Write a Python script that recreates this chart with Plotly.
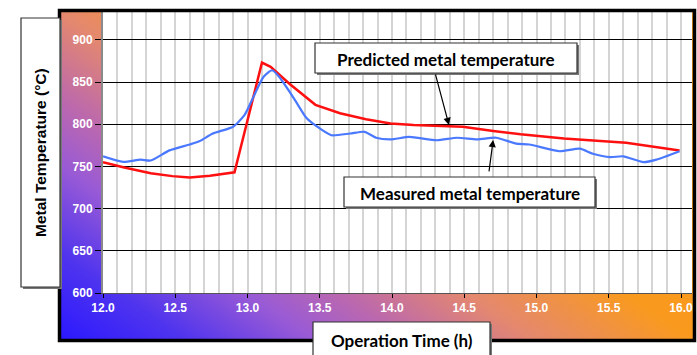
import base64
import plotly.graph_objects as go

# ---------------- data ----------------
pred_time = [12.00, 12.14, 12.33, 12.48, 12.60, 12.74, 12.91, 13.10, 13.16, 13.29,
             13.47, 13.64, 13.82, 13.99, 14.15, 14.49, 14.70, 14.89, 15.19, 15.62, 15.99]
pred_temp = [755, 749, 742, 738.5, 737, 739, 743, 873, 868, 848,
             823, 813, 806, 801, 799, 797, 792, 788, 783, 778, 769]

meas_time = [12.00, 12.14, 12.26, 12.33, 12.46, 12.60, 12.67, 12.76, 12.90, 12.98,
             13.04, 13.11, 13.17, 13.22, 13.32, 13.41, 13.50, 13.58, 13.71, 13.81,
             13.89, 13.99, 14.12, 14.31, 14.45, 14.59, 14.72, 14.86, 14.95, 15.16,
             15.30, 15.39, 15.51, 15.60, 15.74, 15.83, 15.99]
meas_temp = [762, 755.5, 758, 757, 769, 776, 780, 789, 797, 811,
             832, 856, 864, 856, 831, 807, 795, 787, 789, 791,
             784, 782, 785, 781, 784, 782, 784, 777, 776, 768,
             771, 765, 761, 762, 755, 758, 768]

x_ticks = [12.0, 12.5, 13.0, 13.5, 14.0, 14.5, 15.0, 15.5, 16.0]
x_ticklabels = ["12.0", "12.5", "13.0", "13.5", "14.0", "14.5", "15.0", "15.5", "16.0"]
y_ticks = [600, 650, 700, 750, 800, 850, 900]

# ---------------- geometry helpers ----------------
W, H = 697, 355
L, R, T, B = 103, 692, 12, 293


def px(x):
    return (x - L) / (R - L)


def py(y):
    return (B - y) / (B - T)


fig = go.Figure()
fig.add_trace(go.Scatter(x=pred_time, y=pred_temp, mode="lines",
                         line=dict(color="#ff1010", width=2.5), showlegend=False))
fig.add_trace(go.Scatter(x=meas_time, y=meas_temp, mode="lines",
                         line=dict(color="#4a78ff", width=2.2, shape="spline", smoothing=0.6),
                         showlegend=False))

# gradient background image (svg)
gw, gh = 635, 330
svg = f'''<svg xmlns="http://www.w3.org/2000/svg" width="{gw}" height="{gh}" viewBox="0 0 {gw} {gh}" preserveAspectRatio="none">
<defs><linearGradient id="g" gradientUnits="userSpaceOnUse" x1="0" y1="{gh}" x2="204" y2="34">
<stop offset="0" stop-color="#2a18ff"/>
<stop offset="0.2" stop-color="#4f34ee"/>
<stop offset="0.4" stop-color="#985ad6"/>
<stop offset="0.55" stop-color="#bb68ae"/>
<stop offset="0.75" stop-color="#e4886f"/>
<stop offset="1" stop-color="#f99a1f"/>
</linearGradient></defs><rect width="{gw}" height="{gh}" fill="url(#g)"/></svg>'''
src = "data:image/svg+xml;base64," + base64.b64encode(svg.encode()).decode()
fig.add_layout_image(source=src, xref="paper", yref="paper", x=px(59), y=py(10),
                     sizex=gw / (R - L), sizey=gh / (B - T), sizing="stretch",
                     xanchor="left", yanchor="top", layer="below")

shapes = []
# white plot area
shapes.append(dict(type="rect", xref="paper", yref="paper", x0=0, x1=1, y0=0, y1=1,
                   fillcolor="white", line=dict(width=0), layer="below"))
# frame
shapes.append(dict(type="rect", xref="paper", yref="paper", x0=px(59.5), x1=px(694.5),
                   y0=py(340.5), y1=py(10.5), line=dict(color="black", width=3.5),
                   fillcolor="rgba(0,0,0,0)", layer="above"))


def box(x0, y0, x1, y1):
    shapes.append(dict(type="rect", xref="paper", yref="paper", x0=px(x0 + 2), x1=px(x1 + 2),
                       y0=py(y1 + 2), y1=py(y0 + 2), fillcolor="#777777",
                       line=dict(width=0), layer="above"))
    shapes.append(dict(type="rect", xref="paper", yref="paper", x0=px(x0), x1=px(x1),
                       y0=py(y1), y1=py(y0), fillcolor="white",
                       line=dict(color="#333333", width=1.2), layer="above"))


box(21, 18, 60, 287)
box(313, 322, 490, 362)
box(315, 43, 577, 73)
box(344, 177, 595, 207)

annotations = []
tf = dict(family="Lato, Liberation Sans, Arial", size=17, color="black", weight="bold")


def label(x, y, text, font, angle=0):
    annotations.append(dict(xref="paper", yref="paper", x=px(x), y=py(y), text=text,
                            xanchor="center", yanchor="middle", showarrow=False,
                            textangle=angle, font=font))


label(446, 59, "Predicted metal temperature", tf)
label(469.5, 193, "Measured metal temperature", tf)
label(401.5, 341, "Operation Time (h)", dict(tf, size=17))
label(40.5, 152.5, "Metal Temperature (°C)",
      dict(family="Liberation Sans, Arial", size=15.5, color="black", weight="bold"), angle=-90)

# arrows
annotations.append(dict(x=14.394, y=799.2, ax=14.298, ay=860.9, xref="x", yref="y", axref="x", ayref="y",
                        text="", showarrow=True, arrowhead=2, arrowsize=1.2, arrowwidth=1.2, arrowcolor="black"))
annotations.append(dict(x=14.70, y=781.4, ax=14.67, ay=742.3, xref="x", yref="y", axref="x", ayref="y",
                        text="", showarrow=True, arrowhead=2, arrowsize=1.2, arrowwidth=1.2, arrowcolor="black"))

tickfont = dict(family="Liberation Sans, Arial", size=12, color="white", weight="bold")
fig.update_layout(
    width=W, height=H,
    margin=dict(l=L, r=W - R, t=T, b=H - B, pad=0),
    paper_bgcolor="white", plot_bgcolor="rgba(0,0,0,0)",
    shapes=shapes, annotations=annotations,
    xaxis=dict(range=[12, 16.076], tickvals=x_ticks, ticktext=x_ticklabels,
               showgrid=True, gridcolor="#d4d4d4", gridwidth=1.5,
               minor=dict(dtick=0.1, tick0=12, showgrid=True, gridcolor="#d4d4d4", gridwidth=1.5),
               ticks="outside", ticklen=4, tickcolor="black", tickwidth=1,
               showline=True, linecolor="#555555", linewidth=1,
               tickfont=tickfont, zeroline=False),
    yaxis=dict(range=[600, 933], tickvals=y_ticks,
               showgrid=True, gridcolor="black", gridwidth=1,
               ticks="outside", ticklen=6, tickcolor="black", tickwidth=1,
               showline=True, linecolor="#8a8a8a", linewidth=2,
               tickfont=tickfont, zeroline=False),
)

fig.write_html("out.html")
